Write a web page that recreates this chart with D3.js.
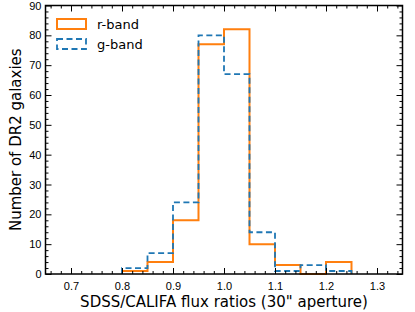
<!DOCTYPE html>
<html>
<head>
<meta charset="utf-8">
<script src="https://cdn.jsdelivr.net/npm/d3@7"></script>
<style>
	body { margin: 0; background: #fff; }
	svg { display: block; font-family: "DejaVu Sans", sans-serif; }
	.axis text { font-size: 11px; fill: #000; }
	.axis line { stroke: #000; stroke-width: 1; }
	.axis .domain { display: none; }
</style>
</head>
<body>
<svg width="415" height="312"></svg>
<script>
// Histogram bin edges (flux ratio)
var binEdges = [0.80, 0.85, 0.90, 0.95, 1.00, 1.05, 1.10, 1.15, 1.20, 1.25]
// Counts per bin
var rBand = [1, 4, 18, 77, 82, 10, 3, 0, 4]
var gBand = [2, 7, 24, 80, 67, 14, 1, 3, 1]

var xMajor = [0.7, 0.8, 0.9, 1.0, 1.1, 1.2, 1.3]
var yMajor = [0, 10, 20, 30, 40, 50, 60, 70, 80, 90]
var seriesNames = ["r-band", "g-band"]

var svg = d3.select("svg")
var box = {left: 45.5, right: 402.5, top: 5.5, bottom: 274}

var x = d3.scaleLinear().domain([0.65, 1.35]).range([box.left, box.right])
var y = d3.scaleLinear().domain([0, 90]).range([box.bottom, box.top])

// minor ticks: every 0.02 on x, every 2 on y
var xMinor = d3.range(33, 68).map(function(i) { return i * 0.02 })
	.filter(function(v) { return Math.abs(v * 10 - Math.round(v * 10)) > 1e-6 })
var yMinor = d3.range(1, 45).map(function(i) { return i * 2 })
	.filter(function(v) { return v % 10 !== 0 })

// Turn counts into a step outline
function stepPoints(counts) {
	var pts = [[binEdges[0], 0]]
	counts.forEach(function(c, i) {
		pts.push([binEdges[i], c])
		pts.push([binEdges[i + 1], c])
	})
	pts.push([binEdges[binEdges.length - 1], 0])
	return pts
}

var line = d3.line()
	.x(function(d) { return x(d[0]) })
	.y(function(d) { return y(d[1]) })

svg.append("path")
	.attr("d", line(stepPoints(rBand)))
	.attr("fill", "none")
	.attr("stroke", "#ff7f0e")
	.attr("stroke-width", 2)

svg.append("path")
	.attr("d", line(stepPoints(gBand)))
	.attr("fill", "none")
	.attr("stroke", "#1f77b4")
	.attr("stroke-width", 1.8)
	.attr("stroke-dasharray", "6,3.5")

// Axes, ticks pointing inward on all four sides
function addAxis(axis, tf) {
	return svg.append("g").attr("class", "axis").attr("transform", tf).call(axis)
}
addAxis(d3.axisBottom(x).tickValues(xMajor).tickSize(-6).tickPadding(8).tickFormat(d3.format(".1f")),
	"translate(0," + box.bottom + ")")
addAxis(d3.axisBottom(x).tickValues(xMinor).tickSize(-3).tickFormat(""), "translate(0," + box.bottom + ")")
addAxis(d3.axisTop(x).tickValues(xMajor).tickSize(-6).tickFormat(""), "translate(0," + box.top + ")")
addAxis(d3.axisTop(x).tickValues(xMinor).tickSize(-3).tickFormat(""), "translate(0," + box.top + ")")
addAxis(d3.axisLeft(y).tickValues(yMajor).tickSize(-6).tickPadding(4), "translate(" + box.left + ",0)")
addAxis(d3.axisLeft(y).tickValues(yMinor).tickSize(-3).tickFormat(""), "translate(" + box.left + ",0)")
addAxis(d3.axisRight(y).tickValues(yMajor).tickSize(-6).tickFormat(""), "translate(" + box.right + ",0)")
addAxis(d3.axisRight(y).tickValues(yMinor).tickSize(-3).tickFormat(""), "translate(" + box.right + ",0)")

svg.append("rect")
	.attr("x", box.left).attr("y", box.top)
	.attr("width", box.right - box.left).attr("height", box.bottom - box.top)
	.attr("fill", "none").attr("stroke", "#000").attr("stroke-width", 1.5)

// Axis labels
svg.append("text")
	.attr("x", (box.left + box.right) / 2).attr("y", 307)
	.attr("text-anchor", "middle")
	.style("font-size", "15px")
	.text("SDSS/CALIFA flux ratios (30\" aperture)")
svg.append("text")
	.attr("transform", "translate(21," + (box.top + box.bottom) / 2 + ") rotate(-90)")
	.attr("text-anchor", "middle")
	.style("font-size", "15px")
	.text("Number of DR2 galaxies")

// Legend
var legend = svg.selectAll(".legend")
	.data(seriesNames)
	.enter().append("g")
	.attr("class", "legend")
	.attr("transform", function(d, i) { return "translate(57," + (19 + i * 20) + ")" })
legend.append("rect")
	.attr("width", 29).attr("height", 10)
	.attr("fill", "none")
	.attr("stroke", function(d, i) { return i === 0 ? "#ff7f0e" : "#1f77b4" })
	.attr("stroke-width", function(d, i) { return i === 0 ? 2 : 1.8 })
	.attr("stroke-dasharray", function(d, i) { return i === 0 ? null : "6,3.5" })
legend.append("text")
	.attr("x", 40).attr("y", 5).attr("dy", "0.35em")
	.style("font-size", "13px")
	.text(function(d) { return d })
</script>
</body>
</html>
